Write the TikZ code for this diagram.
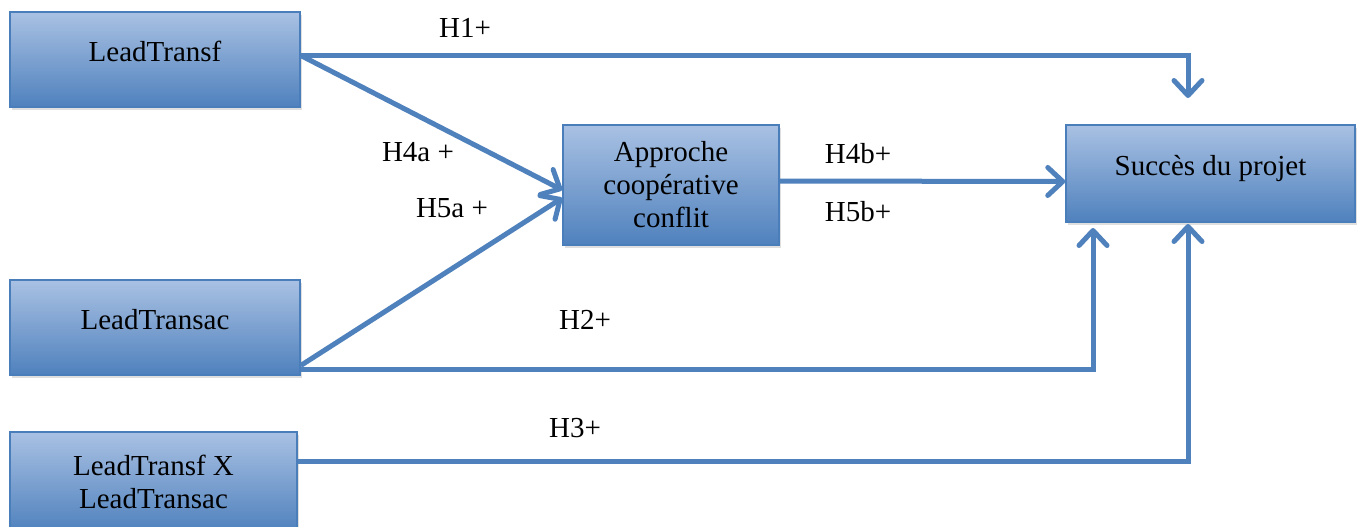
\documentclass[tikz,border=0pt]{standalone}
\usepackage{fontspec}
\setmainfont{Liberation Serif}
\usetikzlibrary{arrows.meta,shadows}

\begin{document}
\begin{tikzpicture}[x=1pt,y=-1pt]
\definecolor{fillTop}{RGB}{169,193,227}
\definecolor{fillBot}{RGB}{79,129,189}
\definecolor{drawColor}{RGB}{74,126,187}
\definecolor{lineColor}{RGB}{79,129,189}
\tikzset{
  bloc/.style={draw=drawColor,line width=1.5pt,top color=fillTop,bottom color=fillBot,
    align=center,inner sep=0pt,font=\fontsize{29}{33}\selectfont,
    drop shadow={shadow xshift=2pt,shadow yshift=-3pt,opacity=0.25}},
  haut/.style={text depth=16pt},
  fleche/.style={draw=lineColor,line width=5pt,line join=miter,
    -{Straight Barb[length=15pt,width=28pt,line cap=round,line join=round]}},
  hyp/.style={inner sep=0pt,font=\fontsize{29}{33}\selectfont}
}
\path[use as bounding box,fill=white] (0,0) rectangle (1360,527);

% boxes
\node[bloc,haut,minimum width=290pt,minimum height=95pt] (lt)  at (155, 59.5) {LeadTransf};
\node[bloc,haut,minimum width=290pt,minimum height=95pt] (ltc) at (155,327.5) {LeadTransac};
\node[bloc,minimum width=287pt,minimum height=100pt] (ltx) at (153.5,482) {LeadTransf X\\LeadTransac};
\node[bloc,minimum width=216pt,minimum height=120pt] (appr) at (671,185) {Approche\\coopérative\\conflit};
\node[bloc,haut,minimum width=289pt,minimum height=97pt] (succ) at (1210.5,173.5) {Succès du projet};

% free ends
\coordinate (h1end) at (1188,98);
\coordinate (h2end) at (1093,228);
\coordinate (h3end) at (1188,224);

% connectors
\draw[fleche] ([yshift=4pt]lt.east) -| (h1end);
\draw[fleche] ([yshift=4pt]lt.east) -- ([yshift=-5pt]appr.west);
\draw[fleche] ([yshift=-38pt]ltc.east) -- ([yshift=-13pt]appr.west);
\draw[fleche] ([yshift=4pt]appr.east) -- ([yshift=-8pt]succ.west);
\draw[fleche] ([yshift=-42pt]ltc.east) -| (h2end);
\draw[fleche] ([yshift=21pt]ltx.east) -| (h3end);

% labels
\node[hyp] (h1)  at (465, 28)  {H1+};
\node[hyp] (h4a) at (418,152)  {H4a +};
\node[hyp] (h5a) at (452,208)  {H5a +};
\node[hyp] (h4b) at (858,154)  {H4b+};
\node[hyp] (h5b) at (858,212)  {H5b+};
\node[hyp] (h2)  at (585,320)  {H2+};
\node[hyp] (h3)  at (575,428)  {H3+};
\end{tikzpicture}
\end{document}
